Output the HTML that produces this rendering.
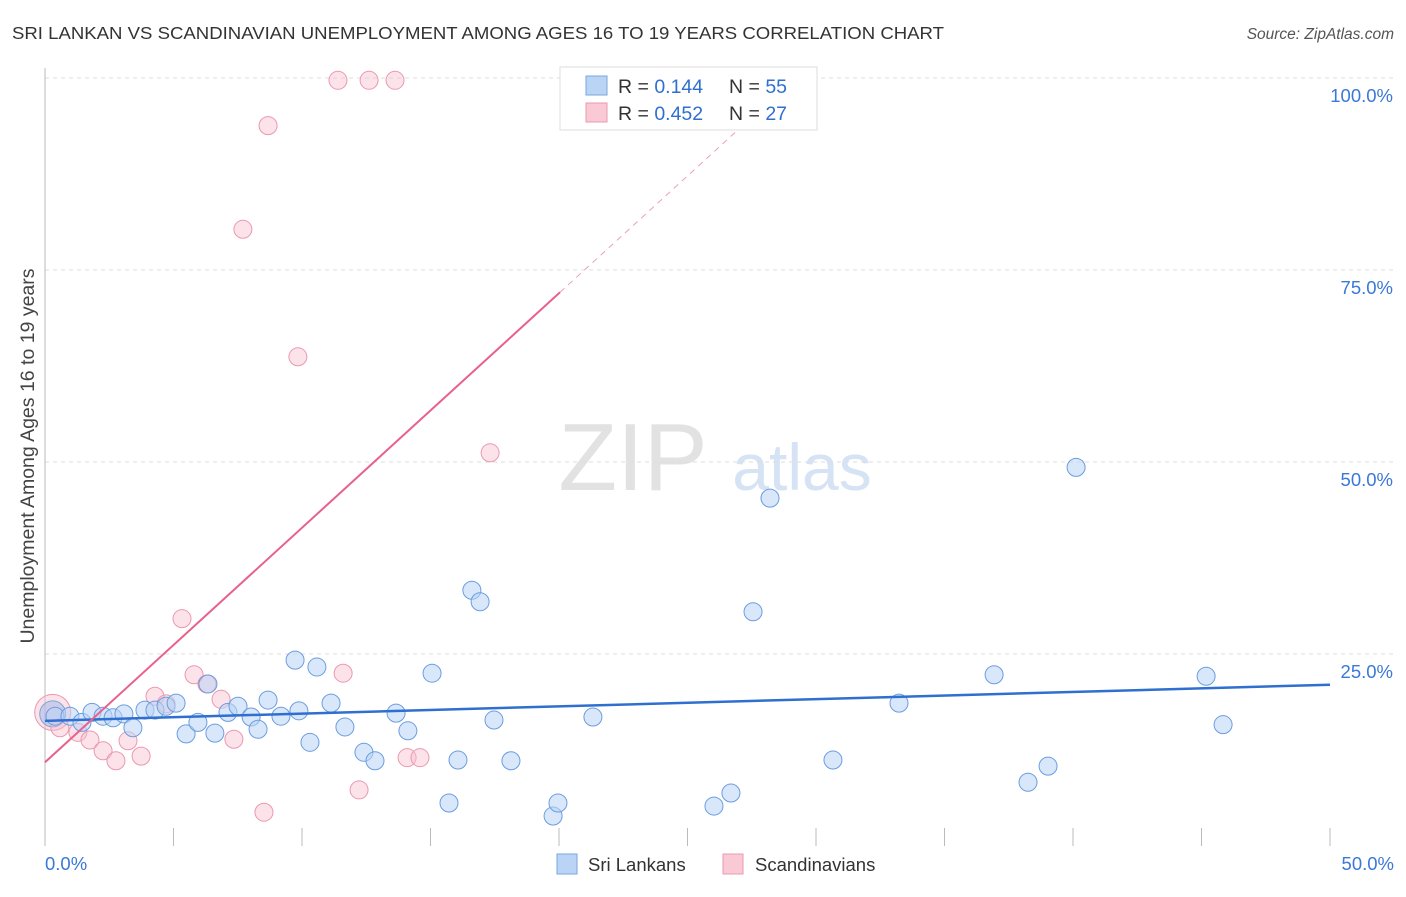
<!DOCTYPE html>
<html><head><meta charset="utf-8"><style>
body{margin:0;background:#fff;font-family:"Liberation Sans",sans-serif;}
svg text{font-family:"Liberation Sans",sans-serif;}
</style></head><body>
<svg id="chart" width="1406" height="892" viewBox="0 0 1406 892" xmlns="http://www.w3.org/2000/svg">
<text x="12" y="39" font-size="17.5" fill="#333" textLength="932" lengthAdjust="spacingAndGlyphs">SRI LANKAN VS SCANDINAVIAN UNEMPLOYMENT AMONG AGES 16 TO 19 YEARS CORRELATION CHART</text>
<text x="1394" y="39" font-size="15.5" fill="#555" text-anchor="end" font-style="italic">Source: ZipAtlas.com</text>
<text transform="translate(34,456) rotate(-90)" font-size="19.5" fill="#444" text-anchor="middle">Unemployment Among Ages 16 to 19 years</text>
<g>
<text x="633" y="490" font-size="96" fill="#e2e2e2" font-family="Liberation Serif,serif" text-anchor="middle">ZIP</text>
<text x="802" y="490" font-size="66" fill="#d5e3f5" text-anchor="middle">atlas</text>
</g>
<g id="grid"></g><g id="axes"></g><g id="marks"></g>
<g>
<rect x="560" y="67" width="257" height="63" fill="#fff" stroke="#ddd"/>
<rect x="586" y="76" width="21" height="19" fill="#b9d4f5" stroke="#7aa7e0"/>
<rect x="586" y="103" width="21" height="19" fill="#f9c9d6" stroke="#eb98b0"/>
<text x="618" y="93" font-size="19.5" fill="#333">R = <tspan fill="#2f6fd0">0.144</tspan><tspan x="729">N = </tspan><tspan fill="#2f6fd0">55</tspan></text>
<text x="618" y="120" font-size="19.5" fill="#333">R = <tspan fill="#2f6fd0">0.452</tspan><tspan x="729">N = </tspan><tspan fill="#2f6fd0">27</tspan></text>
</g>
<g>
<rect x="557" y="854" width="20" height="20" fill="#b9d4f5" stroke="#7aa7e0"/>
<text x="588" y="871" font-size="18.5" fill="#333">Sri Lankans</text>
<rect x="723" y="854" width="20" height="20" fill="#f9c9d6" stroke="#eb98b0"/>
<text x="755" y="871" font-size="18.5" fill="#333">Scandinavians</text>
</g>
</svg>
<script>
const blueX=[0.39,0.97,1.44,1.83,2.26,2.65,3.07,3.42,3.89,4.28,4.71,5.10,5.49,5.95,6.34,6.61,7.12,7.51,8.02,8.29,8.68,9.18,9.73,9.88,10.31,10.58,11.13,11.67,12.41,12.84,13.66,14.12,15.06,15.72,16.07,16.61,16.93,17.47,18.13,19.77,19.96,21.32,26.03,26.69,27.55,28.21,30.66,33.23,36.93,38.25,39.03,40.12,45.18,45.84];
const blueY=[16.9,16.9,16.1,17.4,16.9,16.7,17.2,15.4,17.7,17.7,18.2,18.6,14.6,16.1,21.1,14.7,17.4,18.2,16.8,15.2,19.0,16.9,24.2,17.6,13.5,23.3,18.6,15.5,12.2,11.1,17.3,15.0,22.5,5.6,11.2,33.3,31.8,16.4,11.1,3.9,5.6,16.8,5.2,6.9,30.5,45.3,11.2,18.6,22.3,8.3,10.4,49.3,22.1,15.8];
const pinkX=[11.40,12.61,13.62,8.68,7.70,9.84,17.32,5.33,5.80,6.30,4.28,4.71,6.85,11.60,0.58,1.28,1.75,2.26,2.76,3.23,3.74,7.35,12.22,8.52,14.09,14.59];
const pinkY=[99.7,99.7,99.7,93.8,80.3,63.7,51.2,29.6,22.3,21.1,19.5,18.5,19.1,22.5,15.4,14.8,13.8,12.4,11.1,13.7,11.7,13.9,7.3,4.4,11.5,11.5];
const blueTrend=[16.3,21.0];
const pinkTrend=[10.9,72.1];
const yTicks=[25,50,75,100];
const yTickLabels=["25.0%","50.0%","75.0%","100.0%"];
const xTicks=[0,5,10,15,20,25,30,35,40,45,50];
const X=v=>45+v*25.7, Y=v=>846-v*7.68;
const NS="http://www.w3.org/2000/svg";
function mk(p,t,a){const e=document.createElementNS(NS,t);for(const k in a)e.setAttribute(k,a[k]);p.appendChild(e);return e;}
const grid=document.getElementById('grid'),axes=document.getElementById('axes'),marks=document.getElementById('marks');
yTicks.forEach((v,i)=>{
 const l=mk(grid,'line',{x1:45,x2:1395,y1:Y(v),y2:Y(v),stroke:'#ddd','stroke-dasharray':'4,4'});
 
 
 const t=mk(axes,'text',{x:1393,y:Y(v)+24,'font-size':18.5,fill:'#3b78d8','text-anchor':'end'});t.textContent=yTickLabels[i];
 
 
});
const ax=mk(axes,'line',{x1:45,x2:45,y1:68,y2:846,stroke:'#bbb'});


xTicks.forEach(v=>{const l=mk(axes,'line',{x1:X(v),x2:X(v),y1:828,y2:846,stroke:'#bbb'});
 
 });
[[0,"0.0%",45,'start'],[50,"50.0%",1394,'end']].forEach(d=>{const t=mk(axes,'text',{x:d[2],y:870,'font-size':18.5,fill:'#3b78d8','text-anchor':d[3]});t.textContent=d[1];
 
 });
const b1=mk(marks,'circle',{cx:X(0.3),cy:Y(17.4),r:18,fill:'rgba(249,190,206,0.45)',stroke:'#eb98b0'});


const b2=mk(marks,'circle',{cx:X(0.3),cy:Y(17.2),r:13,fill:'rgba(150,180,230,0.45)',stroke:'#7aa7e0'});


pinkX.forEach((x,i)=>{const c=mk(marks,'circle',{cx:X(x),cy:Y(pinkY[i]),r:9,fill:'rgba(249,190,206,0.45)',stroke:'#eb98b0','stroke-width':1});
 
 });
blueX.forEach((x,i)=>{const c=mk(marks,'circle',{cx:X(x),cy:Y(blueY[i]),r:9,fill:'rgba(185,212,245,0.55)',stroke:'#6b9de0','stroke-width':1});
 
 });
const bt=mk(marks,'line',{x1:X(0),y1:Y(blueTrend[0]),x2:X(50),y2:Y(blueTrend[1]),stroke:'#2f6fd0','stroke-width':2.5});


const slope=(pinkTrend[1]-pinkTrend[0])/20.04;
const pt=mk(marks,'line',{x1:X(0),y1:Y(pinkTrend[0]),x2:X(20.04),y2:Y(pinkTrend[1]),stroke:'#e8618c','stroke-width':2});


const xe=(93-pinkTrend[0])/slope;
const pd=mk(marks,'line',{x1:X(20.04),y1:Y(pinkTrend[1]),x2:X(xe),y2:Y(93),stroke:'#eba0b8','stroke-width':1,'stroke-dasharray':'6,5'});


</script>
</body></html>
